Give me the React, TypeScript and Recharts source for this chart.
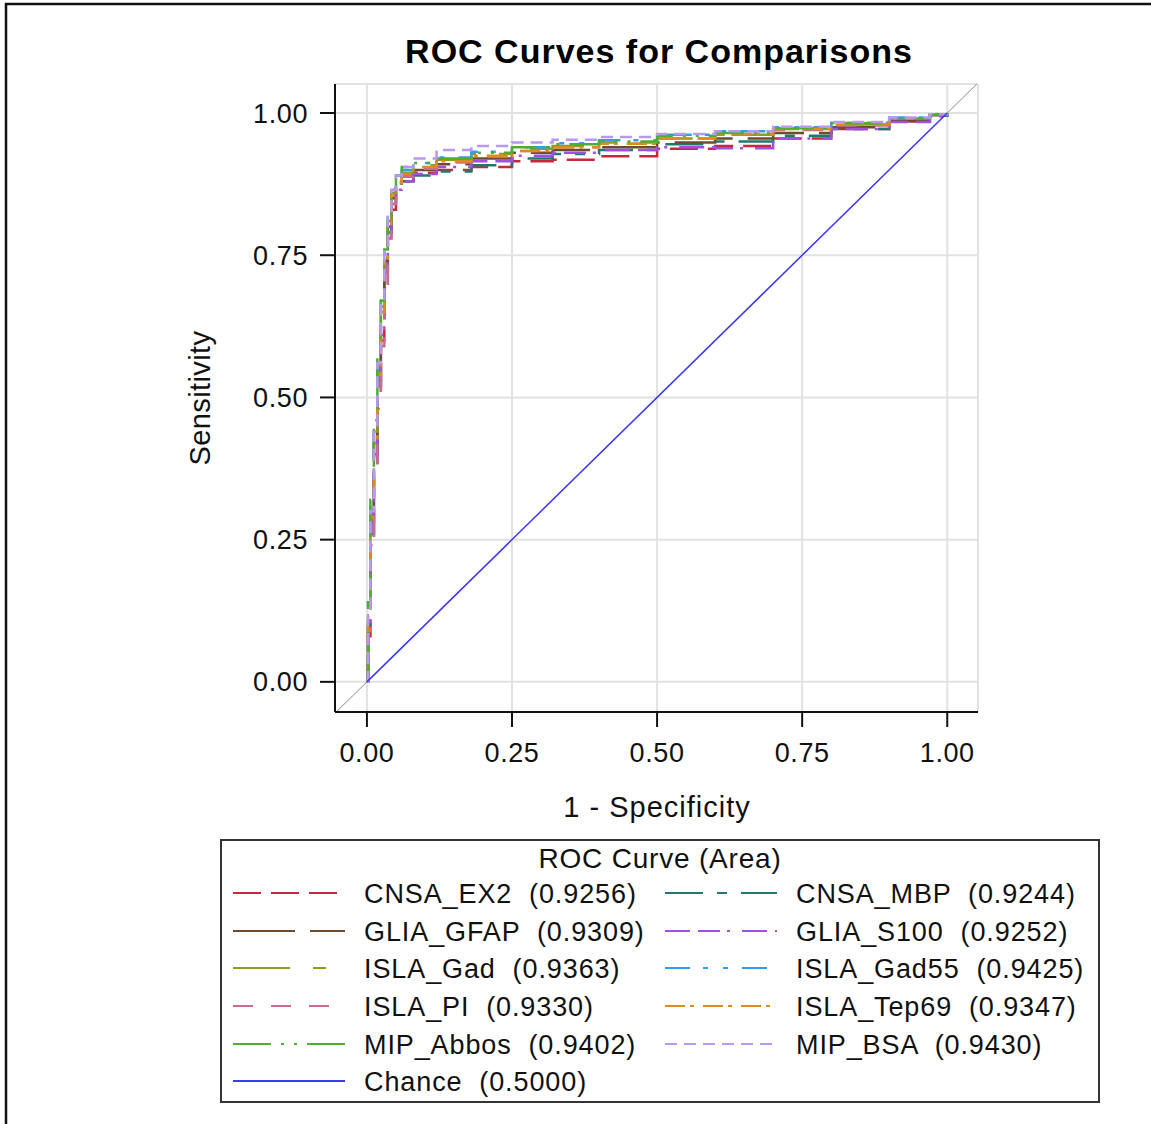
import { CartesianGrid, Line, LineChart, ReferenceLine, XAxis, YAxis } from "recharts";

// shared false-positive-rate grid (1 - specificity)
const fpr = [0, 0.002, 0.006, 0.012, 0.018, 0.024, 0.03, 0.036, 0.042, 0.05, 0.06, 0.08, 0.12, 0.18, 0.25, 0.32, 0.4, 0.5, 0.6, 0.7, 0.8, 0.9, 0.97, 1];

// sensitivity per comparison
const cnsaEx2 = [0, 0.08, 0.24, 0.38, 0.5, 0.6, 0.7, 0.78, 0.83, 0.865, 0.88, 0.895, 0.9, 0.905, 0.915, 0.918, 0.924, 0.937, 0.942, 0.955, 0.972, 0.985, 0.995, 1];
const cnsaMbp = [0, 0.1, 0.26, 0.4, 0.52, 0.62, 0.72, 0.79, 0.84, 0.87, 0.88, 0.89, 0.897, 0.908, 0.92, 0.928, 0.935, 0.945, 0.95, 0.96, 0.972, 0.985, 0.995, 1];
const gliaGfap = [0, 0.12, 0.28, 0.42, 0.53, 0.64, 0.74, 0.8, 0.85, 0.875, 0.89, 0.9, 0.91, 0.92, 0.93, 0.935, 0.94, 0.948, 0.955, 0.965, 0.975, 0.987, 0.996, 1];
const gliaS100 = [0, 0.1, 0.25, 0.38, 0.5, 0.61, 0.72, 0.79, 0.84, 0.865, 0.88, 0.893, 0.905, 0.915, 0.925, 0.93, 0.935, 0.94, 0.938, 0.955, 0.972, 0.984, 0.994, 1];
const islaGad = [0, 0.13, 0.3, 0.44, 0.55, 0.66, 0.75, 0.81, 0.86, 0.88, 0.895, 0.908, 0.918, 0.928, 0.937, 0.942, 0.948, 0.955, 0.962, 0.972, 0.98, 0.99, 0.997, 1];
const islaGad55 = [0, 0.14, 0.31, 0.45, 0.56, 0.67, 0.76, 0.82, 0.865, 0.885, 0.9, 0.912, 0.922, 0.932, 0.94, 0.947, 0.952, 0.962, 0.968, 0.975, 0.983, 0.992, 0.998, 1];
const islaPi = [0, 0.09, 0.24, 0.37, 0.48, 0.59, 0.7, 0.78, 0.84, 0.87, 0.888, 0.902, 0.913, 0.923, 0.933, 0.94, 0.946, 0.955, 0.962, 0.97, 0.978, 0.99, 0.997, 1];
const islaTep69 = [0, 0.12, 0.29, 0.42, 0.54, 0.65, 0.74, 0.8, 0.855, 0.878, 0.892, 0.905, 0.915, 0.925, 0.933, 0.94, 0.946, 0.955, 0.963, 0.972, 0.98, 0.99, 0.997, 1];
const mipAbbos = [0, 0.14, 0.32, 0.46, 0.57, 0.67, 0.76, 0.82, 0.865, 0.89, 0.905, 0.912, 0.92, 0.93, 0.94, 0.945, 0.95, 0.96, 0.965, 0.973, 0.982, 0.99, 0.997, 1];
const mipBsa = [0, 0.13, 0.3, 0.44, 0.56, 0.67, 0.76, 0.82, 0.865, 0.89, 0.905, 0.92, 0.935, 0.942, 0.948, 0.953, 0.958, 0.963, 0.968, 0.976, 0.984, 0.992, 0.998, 1];

const chanceFpr = [0, 1];
const chanceTpr = [0, 1];

const seriesNames = ["CNSA_EX2", "CNSA_MBP", "GLIA_GFAP", "GLIA_S100", "ISLA_Gad", "ISLA_Gad55", "ISLA_PI", "ISLA_Tep69", "MIP_Abbos", "MIP_BSA"];
const seriesAreas = [0.9256, 0.9244, 0.9309, 0.9252, 0.9363, 0.9425, 0.933, 0.9347, 0.9402, 0.943];
const seriesValues = [cnsaEx2, cnsaMbp, gliaGfap, gliaS100, islaGad, islaGad55, islaPi, islaTep69, mipAbbos, mipBsa];
const chanceArea = 0.5;

const axisTicks = [0, 0.25, 0.5, 0.75, 1];

// styles
const seriesColors = ["#c8283c", "#1f7a6e", "#6e4c2c", "#a24fe0", "#8f9a26", "#2e9ff0", "#c86c94", "#e08c1c", "#4caf32", "#b898f2"];
const seriesDashes = ["28 10", "38 14 10 14", "62 15", "25 8 22 7 3 12", "57 23 13 23", "25 13 5 15 5 14", "20 18", "20 5 4 9", "38 10 3 10 3 10", "12 7"];
const chanceColor = "#3b3bf0";

const FONT = "'Liberation Sans', Arial, sans-serif";

const fmt = (v: number) => v.toFixed(2);

function LegendBox() {
  const rowY = [893, 931, 968, 1006, 1044, 1081];
  const entries = seriesNames.map((name, i) => ({
    label: `${name}  (${seriesAreas[i].toFixed(4)})`,
    color: seriesColors[i],
    dash: seriesDashes[i],
    col: i % 2,
    row: Math.floor(i / 2),
  }));
  entries.push({ label: `Chance  (${chanceArea.toFixed(4)})`, color: chanceColor, dash: "", col: 0, row: 5 });
  return (
    <g>
      <rect x={221} y={840} width={878} height={262} fill="#fff" stroke="#333" strokeWidth={2} />
      <text x={660} y={868} textAnchor="middle" fontSize={28} letterSpacing={0.8} fill="#111" fontFamily={FONT}>
        ROC Curve (Area)
      </text>
      {entries.map((e) => {
        const x0 = e.col === 0 ? 233 : 665;
        const y = rowY[e.row];
        return (
          <g key={e.label}>
            <line x1={x0} x2={x0 + 112} y1={y} y2={y} stroke={e.color} strokeWidth={2} strokeDasharray={e.dash || undefined} />
            <text x={x0 + 131} y={y + 10} fontSize={27} letterSpacing={0.9} fill="#111" fontFamily={FONT} style={{ whiteSpace: "pre" }}>
              {e.label}
            </text>
          </g>
        );
      })}
    </g>
  );
}

export default function App() {
  return (
    <div style={{ position: "absolute", left: 0, top: 0, width: 1151, height: 1124, background: "#fff", fontFamily: FONT }}>
      <LineChart
        width={1151}
        height={1124}
        margin={{ top: 84, right: 173, left: 235, bottom: 312 }}
      >
        <CartesianGrid stroke="#e2e2e2" strokeWidth={2} />
        <XAxis
          dataKey="fpr"
          type="number"
          domain={[-0.055, 1.053]}
          ticks={axisTicks}
          allowDataOverflow
          tickFormatter={fmt}
          height={100}
          tickSize={15}
          tickMargin={16}
          axisLine={{ stroke: "#111", strokeWidth: 2 }}
          tickLine={{ stroke: "#111", strokeWidth: 2 }}
          tick={{ fontSize: 27, fill: "#111", fontFamily: FONT, letterSpacing: 0.6 }}
        />
        <YAxis
          type="number"
          domain={[-0.053, 1.051]}
          ticks={axisTicks}
          allowDataOverflow
          tickFormatter={fmt}
          width={100}
          tickSize={15}
          tickMargin={12}
          axisLine={{ stroke: "#111", strokeWidth: 2 }}
          tickLine={{ stroke: "#111", strokeWidth: 2 }}
          tick={{ fontSize: 27, fill: "#111", fontFamily: FONT, letterSpacing: 0.6 }}
        />
        <XAxis xAxisId="top" orientation="top" type="number" domain={[-0.055, 1.053]} height={0} tick={false} tickLine={false} axisLine={{ stroke: "#111", strokeWidth: 2 }} />
        <YAxis yAxisId="right" orientation="right" type="number" domain={[-0.053, 1.051]} width={0} tick={false} tickLine={false} axisLine={{ stroke: "#111", strokeWidth: 2 }} />
        <ReferenceLine
          segment={[{ x: -0.053, y: -0.053 }, { x: 1.051, y: 1.051 }]}
          stroke="#8a8a8a"
          strokeWidth={1}
          ifOverflow="hidden"
        />
        {seriesValues.map((vals, i) => (
          <Line
            key={seriesNames[i]}
            data={fpr.map((x, j) => ({ fpr: x, tpr: vals[j] }))}
            dataKey="tpr"
            type="stepAfter"
            stroke={seriesColors[i]}
            strokeWidth={2.5}
            strokeDasharray={seriesDashes[i]}
            dot={false}
            activeDot={false}
            isAnimationActive={false}
          />
        ))}
        <Line
          data={chanceFpr.map((x, j) => ({ fpr: x, tpr: chanceTpr[j] }))}
          dataKey="tpr"
          type="linear"
          stroke={chanceColor}
          strokeWidth={1.5}
          dot={false}
          activeDot={false}
          isAnimationActive={false}
        />
      </LineChart>
      <svg width={1151} height={1124} style={{ position: "absolute", left: 0, top: 0, pointerEvents: "none" }}>
        <line x1={5} x2={1151} y1={4} y2={4} stroke="#111" strokeWidth={2.5} />
        <line x1={6} x2={6} y1={3} y2={1124} stroke="#111" strokeWidth={2.5} />
        <text x={659} y={63} textAnchor="middle" fontSize={34} fontWeight="bold" letterSpacing={1} fill="#000" fontFamily={FONT}>
          ROC Curves for Comparisons
        </text>
        <text x={0} y={0} transform="translate(210 398) rotate(-90)" textAnchor="middle" fontSize={29} letterSpacing={0.4} fill="#111" fontFamily={FONT}>
          Sensitivity
        </text>
        <text x={657} y={817} textAnchor="middle" fontSize={29} letterSpacing={1} fill="#111" fontFamily={FONT}>
          1 - Specificity
        </text>
        <LegendBox />
      </svg>
    </div>
  );
}
